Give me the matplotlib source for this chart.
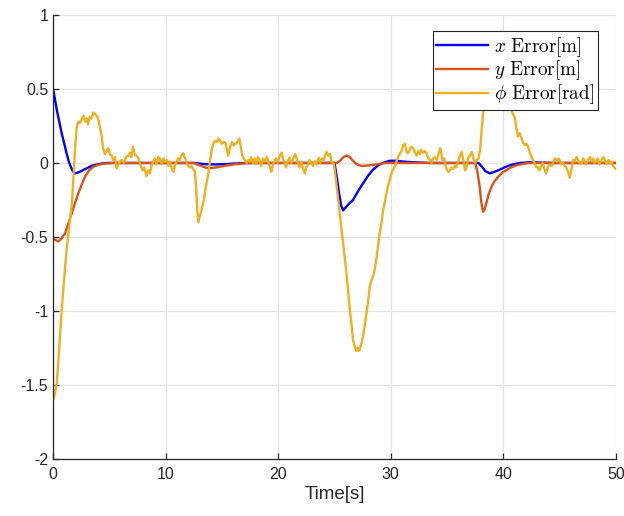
import numpy as np
import matplotlib.pyplot as plt

# x error [m]
t_x = [0, 0.15, 0.33, 0.55, 0.77, 1.0, 1.2, 1.4, 1.6, 1.8, 1.95, 2.2, 2.5, 2.75, 3.0, 3.4, 3.9, 4.4, 4.8,
       12.5, 13.5, 14.5, 15.5, 17.0, 25.0, 25.2, 25.4, 25.6, 25.78, 26.0, 26.3, 26.65, 27.1, 27.54, 28.0,
       28.4, 28.9, 29.3, 29.9, 30.4, 30.8, 31.5, 32.6, 33.5, 37.8, 38.1, 38.4, 38.8, 39.2, 39.7, 40.1,
       40.6, 41.0, 41.5, 42.4, 43.5, 44.5, 50.0]
x_err = [0.5, 0.44, 0.36, 0.28, 0.20, 0.13, 0.065, 0.01, -0.03, -0.06, -0.07, -0.065, -0.055, -0.045, -0.036,
         -0.02, -0.01, -0.003, 0.0,
         0.0, -0.008, -0.01, -0.007, 0.0, 0.0, -0.09, -0.2, -0.29, -0.32, -0.30, -0.275, -0.25, -0.19, -0.137,
         -0.085, -0.047, -0.015, 0.0, 0.015, 0.015, 0.012, 0.007, 0.003, 0.0, 0.0, -0.025, -0.055, -0.07,
         -0.06, -0.045, -0.03, -0.015, -0.007, 0.0, 0.005, 0.002, 0.0, 0.0]

# y error [m]
t_y = [0, 0.2, 0.47, 0.75, 1.07, 1.35, 1.66, 1.95, 2.25, 2.55, 2.84, 3.2, 3.58, 4.0, 4.5, 5.4,
       12.5, 13.0, 13.5, 13.9, 14.5, 15.2, 16.0, 17.0, 18.0, 25.2, 25.5, 25.8, 26.07, 26.35, 26.65, 27.0,
       27.4, 27.9, 28.5, 29.0, 29.6, 37.5, 37.7, 37.9, 38.05, 38.2, 38.35, 38.5, 38.7, 38.95, 39.25, 39.55,
       39.9, 40.3, 40.7, 41.2, 41.8, 42.4, 50.0]
y_err = [-0.5, -0.52, -0.53, -0.51, -0.475, -0.41, -0.34, -0.27, -0.205, -0.145, -0.093, -0.05, -0.025,
         -0.012, -0.005, 0.0,
         0.0, -0.015, -0.03, -0.036, -0.03, -0.02, -0.01, -0.003, 0.0, 0.0, 0.015, 0.04, 0.05, 0.04, 0.015,
         -0.01, -0.02, -0.018, -0.012, -0.006, 0.0, 0.0, -0.06, -0.16, -0.27, -0.33, -0.31, -0.27, -0.21,
         -0.16, -0.12, -0.093, -0.065, -0.047, -0.03, -0.015, -0.005, 0.0, 0.0]

# phi error [rad]
t_phi = [0.0, 0.1, 0.33, 0.55, 0.77, 1.0, 1.2, 1.45, 1.66, 1.85, 1.95, 2.1, 2.25, 2.4, 2.55, 2.7, 2.85, 3.0,
         3.1, 3.25, 3.4, 3.58, 3.75, 3.86, 4.0, 4.15, 4.32, 4.45, 4.6, 4.75, 4.9, 5.05, 5.2, 5.35, 5.5, 5.65,
         5.8, 5.95, 6.1, 6.3, 6.5, 6.7, 6.83, 6.95, 7.1, 7.25, 7.4, 7.6, 7.8, 7.95, 8.1, 8.3, 8.45, 8.6,
         8.75, 8.9, 9.05, 9.2, 9.35, 9.5, 9.65, 9.8, 9.95, 10.1, 10.25, 10.4, 10.55, 10.7, 10.85, 11.0,
         11.1, 11.25, 11.4, 11.57, 11.7, 11.85, 12.0, 12.15, 12.3, 12.45, 12.6, 12.7, 12.8, 12.9, 13.0,
         13.15, 13.3, 13.4, 13.55, 13.7, 13.8, 13.95, 14.1, 14.23, 14.4, 14.55, 14.7, 14.85, 15.0, 15.15,
         15.3, 15.45, 15.56, 15.7, 15.9, 16.05, 16.2, 16.35, 16.55, 16.65, 16.8, 16.95, 17.05, 17.2, 17.35,
         17.5, 17.6, 17.75, 17.9, 18.05, 18.2, 18.35, 18.5, 18.65, 18.8, 19.0, 19.15, 19.25, 19.4, 19.55,
         19.7, 19.8, 19.95, 20.1, 20.3, 20.45, 20.55, 20.7, 20.85, 21.0, 21.15, 21.3, 21.5, 21.65, 21.75,
         21.9, 22.05, 22.2, 22.37, 22.5, 22.65, 22.8, 22.95, 23.1, 23.25, 23.4, 23.6, 23.75, 23.9, 24.05,
         24.15, 24.3, 24.45, 24.6, 24.7, 24.85, 24.95, 25.05, 25.2, 25.5, 25.8, 26.07, 26.36, 26.5, 26.65,
         26.8, 26.95, 27.05, 27.15, 27.25, 27.4, 27.54, 27.7, 27.84, 28.0, 28.13, 28.3, 28.45, 28.58, 28.7,
         28.87, 29.0, 29.17, 29.3, 29.46, 29.6, 29.75, 29.9, 30.1, 30.35, 30.55, 30.8, 30.95, 31.1, 31.26,
         31.35, 31.5, 31.65, 31.8, 32.0, 32.15, 32.3, 32.45, 32.6, 32.7, 32.85, 33.0, 33.2, 33.35, 33.5,
         33.6, 33.75, 33.9, 34.1, 34.25, 34.4, 34.5, 34.6, 34.75, 34.9, 35.1, 35.25, 35.4, 35.55, 35.7,
         35.8, 35.95, 36.1, 36.3, 36.45, 36.6, 36.7, 36.9, 37.05, 37.2, 37.35, 37.5, 37.65, 37.8, 37.95,
         38.07, 38.2, 38.37, 38.5, 38.7, 38.9, 39.1, 39.3, 39.5, 39.7, 39.9, 40.1, 40.3, 40.45, 40.6, 40.8,
         41.0, 41.15, 41.3, 41.45, 41.6, 41.75, 41.9, 42.05, 42.2, 42.35, 42.5, 42.7, 42.9, 43.05, 43.2,
         43.35, 43.5, 43.65, 43.8, 43.95, 44.1, 44.3, 44.45, 44.6, 44.75, 44.9, 45.0, 45.15, 45.3, 45.45,
         45.6, 45.75, 45.9, 46.05, 46.2, 46.35, 46.5, 46.65, 46.8, 47.0, 47.1, 47.2, 47.35, 47.5, 47.7,
         47.85, 48.0, 48.1, 48.25, 48.4, 48.55, 48.7, 48.9, 49.0, 49.2, 49.35, 49.5, 49.6, 49.75, 49.9, 50.0]
phi_err = [-1.60, -1.58, -1.49, -1.25, -0.99, -0.78, -0.59, -0.42, -0.29, -0.05, 0.09, 0.24, 0.28, 0.27,
           0.30, 0.32, 0.28, 0.30, 0.26, 0.31, 0.30, 0.34, 0.33, 0.32, 0.30, 0.25, 0.18, 0.10, 0.06, 0.08,
           0.10, 0.06, 0.05, 0.02, 0.04, -0.035, -0.01, 0.01, 0.02, 0.00, 0.04, 0.05, 0.07, 0.04, 0.11, 0.06,
           0.05, 0.03, -0.02, -0.05, -0.03, -0.09, -0.05, -0.07, -0.02, 0.01, 0.03, -0.01, 0.04, 0.03, -0.01,
           0.03, 0.01, 0.02, -0.02, 0.01, -0.04, -0.06, -0.01, 0.01, 0.03, 0.02, 0.05, 0.065, 0.04, 0.01,
           -0.02, -0.03, -0.02, -0.04, -0.06, -0.15, -0.30, -0.40, -0.37, -0.33, -0.28, -0.25, -0.17, -0.11,
           -0.07, 0.02, 0.09, 0.13, 0.15, 0.14, 0.165, 0.15, 0.13, 0.14, 0.14, 0.09, 0.05, 0.10, 0.14, 0.12,
           0.13, 0.14, 0.165, 0.12, 0.055, 0.03, 0.02, 0.00, 0.02, 0.01, 0.04, 0.00, 0.03, -0.01, 0.04, 0.02,
           -0.02, 0.03, 0.01, 0.04, 0.00, -0.02, -0.06, -0.01, 0.02, 0.03, 0.00, 0.04, 0.07, 0.02, 0.01,
           -0.03, 0.01, 0.035, 0.00, 0.02, 0.06, 0.03, 0.00, -0.03, 0.01, -0.04, -0.07, -0.03, -0.01, 0.02,
           0.00, -0.02, 0.01, -0.01, 0.035, 0.00, 0.03, 0.02, 0.05, 0.075, 0.05, 0.06, 0.02, 0.00, -0.01,
           -0.06, -0.16, -0.36, -0.565, -0.745, -0.99, -1.08, -1.195, -1.24, -1.27, -1.25, -1.27, -1.26,
           -1.22, -1.17, -1.09, -1.015, -0.93, -0.835, -0.79, -0.76, -0.72, -0.66, -0.565, -0.48, -0.41,
           -0.33, -0.27, -0.21, -0.16, -0.115, -0.06, -0.025, 0.02, 0.065, 0.08, 0.12, 0.13, 0.09, 0.065,
           0.08, 0.11, 0.10, 0.07, 0.05, 0.08, 0.06, 0.09, 0.07, 0.08, 0.065, 0.03, 0.02, 0.00, 0.03, 0.04,
           0.02, 0.06, 0.10, 0.06, 0.02, 0.03, -0.03, -0.06, -0.05, -0.03, -0.04, -0.02, -0.03, 0.00, 0.04,
           0.075, 0.02, -0.05, -0.04, 0.04, 0.05, 0.075, 0.03, 0.00, 0.02, 0.03, 0.10, 0.22, 0.33, 0.45,
           0.55, 0.62, 0.66, 0.64, 0.68, 0.65, 0.67, 0.63, 0.60, 0.52, 0.45, 0.38, 0.34, 0.31, 0.24, 0.18,
           0.20, 0.17, 0.14, 0.12, 0.13, 0.11, 0.07, 0.04, 0.01, -0.025, -0.03, -0.05, -0.02, 0.00, -0.04,
           -0.07, -0.03, -0.01, -0.02, 0.01, 0.03, 0.01, 0.03, 0.02, -0.01, 0.00, -0.02, -0.03, -0.06, -0.10,
           -0.04, 0.02, 0.01, 0.04, 0.02, -0.01, 0.00, 0.03, 0.02, -0.01, 0.02, 0.04, 0.01, 0.03, 0.00, 0.01,
           0.03, -0.01, 0.02, 0.04, 0.02, -0.01, 0.02, 0.00, 0.01, -0.02, -0.035, -0.04]

plt.rcParams['mathtext.fontset'] = 'cm'

fig = plt.figure(figsize=(6.24, 5.16), dpi=100)
ax = fig.add_axes([0.085, 0.1105, 0.902, 0.8605])

ax.plot(t_x, x_err, color='#0000ff', lw=1.7, label=r'$x\ \mathrm{Error[m]}$')
ax.plot(t_y, y_err, color='#D95319', lw=1.7, label=r'$y\ \mathrm{Error[m]}$')
ax.plot(t_phi, phi_err, color='#EDB120', lw=1.7, label=r'$\phi\ \mathrm{Error[rad]}$')

ax.set_xlim(0, 50)
ax.set_ylim(-2, 1)
ax.set_xticks([0, 10, 20, 30, 40, 50])
ax.set_yticks([-2, -1.5, -1, -0.5, 0, 0.5, 1])
ax.set_yticklabels(['-2', '-1.5', '-1', '-0.5', '0', '0.5', '1'])
ax.grid(True, color='#e3e3e3', lw=0.9)
ax.set_axisbelow(True)
for s in ['top', 'right']:
    ax.spines[s].set_visible(False)
for s in ['left', 'bottom']:
    ax.spines[s].set_color('#262626')
    ax.spines[s].set_linewidth(0.9)
ax.tick_params(direction='in', length=4, colors='#262626', labelsize=11.5, width=0.9)
ax.tick_params(axis='x', pad=6)
for lab in ax.get_xticklabels() + ax.get_yticklabels():
    lab.set_family('Liberation Sans')
ax.set_xlabel('Time[s]', fontsize=13.5, family='Liberation Sans', color='#262626', labelpad=3)

leg = ax.legend(loc='upper right', bbox_to_anchor=(0.968, 0.964), fontsize=13.8,
                fancybox=False, framealpha=1, edgecolor='#262626', handlelength=2.7,
                borderpad=0.2, labelspacing=0.0, handletextpad=0.3, borderaxespad=0)
leg.get_frame().set_linewidth(0.8)

fig.savefig('out.png', dpi=100)
